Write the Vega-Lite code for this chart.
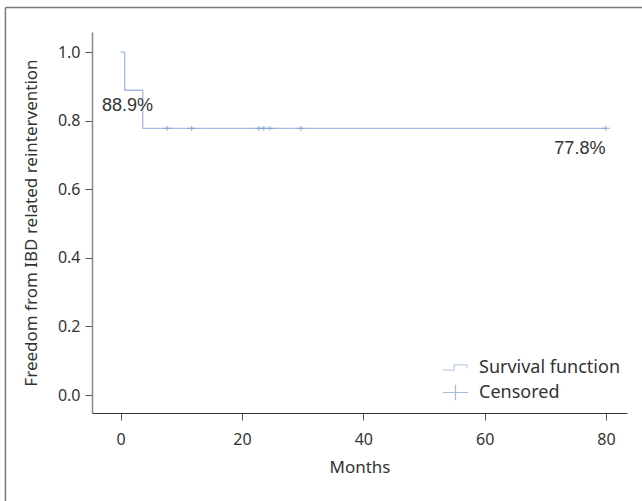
{
  "$schema": "https://vega.github.io/schema/vega-lite/v6.json",
  "autosize": "none",
  "width": 535,
  "height": 381,
  "padding": {"left": 92, "top": 32, "right": 15, "bottom": 88},
  "background": "white",
  "config": {
    "view": {"stroke": null},
    "font": "Noto Sans",
    "axis": {"grid": false, "labelFont": "Noto Sans", "titleFont": "Noto Sans", "labelFontSize": 16, "titleFontSize": 17, "labelColor": "#333", "titleColor": "#333", "titleFontWeight": "normal", "tickColor": "#555", "tickSize": 7, "tickWidth": 1}
  },
  "datasets": {
    "curve": [
      {"months": 0, "surv": 1.0, "series": "Survival function"},
      {"months": 0.66, "surv": 0.889, "series": "Survival function"},
      {"months": 3.63, "surv": 0.778, "series": "Survival function"},
      {"months": 80, "surv": 0.778, "series": "Survival function"}
    ],
    "censored": [
      {"months": 7.66, "surv": 0.778, "series": "Censored"},
      {"months": 11.7, "surv": 0.778, "series": "Censored"},
      {"months": 22.8, "surv": 0.778, "series": "Censored"},
      {"months": 23.6, "surv": 0.778, "series": "Censored"},
      {"months": 24.6, "surv": 0.778, "series": "Censored"},
      {"months": 29.7, "surv": 0.778, "series": "Censored"},
      {"months": 80, "surv": 0.778, "series": "Censored"}
    ],
    "labelA": [
      {"months": 1.12, "surv": 0.844, "text": "88.9%"}
    ],
    "labelB": [
      {"months": 79.9, "surv": 0.718, "text": "77.8%"}
    ],
    "one": [{}]
  },
  "layer": [
    {
      "data": {"name": "one"},
      "mark": {"type": "rule", "color": "#7a7a7a", "strokeWidth": 1.5, "clip": false},
      "encoding": {
        "x": {"datum": -19},
        "x2": {"datum": 95},
        "y": {"datum": 1.1305}
      }
    },
    {
      "data": {"name": "one"},
      "mark": {"type": "rule", "color": "#7a7a7a", "strokeWidth": 1.5, "clip": false},
      "encoding": {
        "x": {"datum": -19},
        "y": {"datum": 1.1305},
        "y2": {"datum": -0.5}
      }
    },
    {
      "data": {"name": "curve"},
      "mark": {"type": "line", "interpolate": "step-after", "strokeWidth": 1.3},
      "encoding": {
        "x": {"field": "months", "type": "quantitative", "scale": {"domain": [-4.73, 83.46], "nice": false, "zero": false},
          "axis": {"title": "Months", "values": [0, 20, 40, 60, 80], "domainColor": "#333", "labelPadding": 11, "titlePadding": 12}},
        "y": {"field": "surv", "type": "quantitative", "scale": {"domain": [-0.0525, 1.059], "nice": false, "zero": false},
          "axis": {"title": "Freedom from IBD related reintervention", "values": [0, 0.2, 0.4, 0.6, 0.8, 1.0], "format": ".1f", "domainColor": "#888", "domainWidth": 1.5, "labelPadding": 5, "titlePadding": 17}},
        "color": {"field": "series", "type": "nominal",
          "scale": {"domain": ["Survival function", "Censored"], "range": ["#a3bce0", "#7f9fd2"]},
          "legend": {"title": null, "orient": "none", "legendX": 350, "legendY": 322, "labelFontSize": 18, "labelFont": "Noto Sans", "labelColor": "#333", "symbolSize": 650, "symbolStrokeWidth": 1.2, "symbolFillColor": "transparent", "rowPadding": 2, "labelOffset": 10}}
      }
    },
    {
      "data": {"name": "censored"},
      "mark": {"type": "point", "filled": false, "strokeWidth": 1.3, "size": 64},
      "encoding": {
        "x": {"field": "months", "type": "quantitative"},
        "y": {"field": "surv", "type": "quantitative"},
        "color": {"field": "series", "type": "nominal"},
        "shape": {"field": "series", "type": "nominal",
          "scale": {"domain": ["Survival function", "Censored"], "range": ["M-1,0.2H-0.1V-0.2H0.9V0.05", "M-1,0H1M0,-0.6V0.6"]},
          "legend": {"title": null, "orient": "none", "legendX": 350, "legendY": 322, "labelFontSize": 18, "labelFont": "Noto Sans", "labelColor": "#333", "symbolSize": 650, "symbolStrokeWidth": 1.2, "symbolFillColor": "transparent", "rowPadding": 2, "labelOffset": 10}}
      }
    },
    {
      "data": {"name": "labelA"},
      "mark": {"type": "text", "font": "Liberation Sans", "fontSize": 18, "color": "#333", "baseline": "middle", "align": "center"},
      "encoding": {
        "x": {"field": "months", "type": "quantitative"},
        "y": {"field": "surv", "type": "quantitative"},
        "text": {"field": "text"}
      }
    },
    {
      "data": {"name": "labelB"},
      "mark": {"type": "text", "font": "Liberation Sans", "fontSize": 18, "color": "#333", "baseline": "middle", "align": "right"},
      "encoding": {
        "x": {"field": "months", "type": "quantitative"},
        "y": {"field": "surv", "type": "quantitative"},
        "text": {"field": "text"}
      }
    }
  ]
}
